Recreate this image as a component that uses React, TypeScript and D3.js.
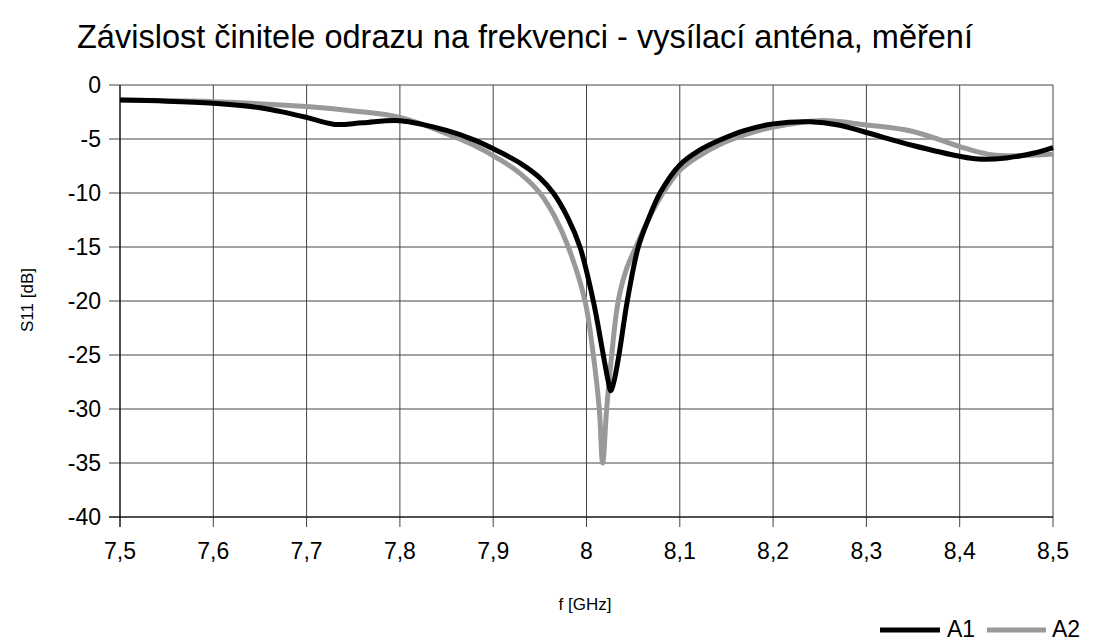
import * as d3 from "d3";

type Pt = [number, number];

const title = "Závislost činitele odrazu na frekvenci - vysílací anténa, měření";
const xTitle = "f [GHz]";
const yTitle = "S11 [dB]";
const xTicks = [7.5, 7.6, 7.7, 7.8, 7.9, 8.0, 8.1, 8.2, 8.3, 8.4, 8.5];
const yTicks = [0, -5, -10, -15, -20, -25, -30, -35, -40];

// A1 - black, measured [GHz, dB]
const a1: Pt[] = [
    [7.5, -1.4], [7.55, -1.5], [7.6, -1.7], [7.65, -2.1], [7.68, -2.6], [7.7, -3.0],
    [7.73, -3.65], [7.76, -3.5], [7.8, -3.3], [7.85, -4.2], [7.88, -5.1], [7.907, -6.2],
    [7.93, -7.3], [7.95, -8.6], [7.9644, -10], [7.98, -12.3], [7.993, -15],
    [8.0073, -20], [8.018, -25], [8.023, -27.3], [8.026, -28.3], [8.029, -27.6], [8.0348, -25],
    [8.0437, -20], [8.0555, -15], [8.066, -12.5], [8.0788, -10], [8.1, -7.4],
    [8.12, -6.1], [8.143, -5.1], [8.17, -4.2], [8.2, -3.6], [8.24, -3.4], [8.27, -3.7],
    [8.3, -4.4], [8.35, -5.6], [8.4, -6.6], [8.42, -6.85], [8.45, -6.75], [8.48, -6.3], [8.5, -5.8],
];

// A2 - grey
const a2: Pt[] = [
    [7.5, -1.4], [7.6, -1.55], [7.7, -2.0], [7.75, -2.4], [7.8, -3.0], [7.85, -4.5],
    [7.88, -5.6], [7.907, -6.9], [7.929, -8.2], [7.95, -10], [7.966, -12.2], [7.9805, -15],
    [7.9984, -20], [8.0073, -25], [8.0137, -30], [8.0173, -35], [8.0216, -30], [8.027, -25],
    [8.034, -20], [8.043, -17], [8.053, -15], [8.066, -12.5], [8.082, -10], [8.1, -7.9],
    [8.12, -6.6], [8.143, -5.5], [8.17, -4.6], [8.2, -3.9], [8.25, -3.3], [8.3, -3.7],
    [8.35, -4.3], [8.4, -5.7], [8.43, -6.4], [8.46, -6.55], [8.5, -6.4],
];

const W = 1095;
const H = 640;
const left = 120;
const right = 1053;
const top = 85;
const bottom = 517;
const font = "'Liberation Sans', Arial, sans-serif";

export default function App() {
    const x = d3.scaleLinear().domain([7.5, 8.5]).range([left, right]);
    const y = d3.scaleLinear().domain([-40, 0]).range([bottom, top]);
    const line = d3.line<Pt>()
        .x(d => x(d[0]))
        .y(d => y(d[1]))
        .curve(d3.curveCatmullRom.alpha(0.5));
    const fmt = (v: number) => (Number.isInteger(v) ? String(v) : v.toFixed(1).replace(".", ","));

    return <svg width={W} height={H} style={{position: "absolute", left: 0, top: 0}} fontFamily={font}>
        <rect width={W} height={H} fill="#fff"/>
        <text x={525} y={48} textAnchor="middle" fontSize={32.5}>{title}</text>
        {/* grid */}
        {xTicks.map(t => <line key={"gx" + t} x1={x(t)} x2={x(t)} y1={top} y2={bottom + 10} stroke="#444" strokeWidth={1}/>)}
        {yTicks.map(t => <line key={"gy" + t} x1={left - 11} x2={right} y1={y(t)} y2={y(t)} stroke="#444" strokeWidth={1}/>)}
        <line x1={left} x2={left} y1={top} y2={bottom + 10} stroke="#000"/>
        <line x1={left - 11} x2={right} y1={bottom} y2={bottom} stroke="#000"/>
        {yTicks.map(t => <text key={"ty" + t} x={101} y={y(t) + 8} textAnchor="end" fontSize={23}>{fmt(t)}</text>)}
        {xTicks.map(t => <text key={"tx" + t} x={x(t)} y={559} textAnchor="middle" fontSize={23}>{fmt(t)}</text>)}
        <text x={585} y={610} textAnchor="middle" fontSize={17}>{xTitle}</text>
        <text transform={`translate(33,300) rotate(-90)`} textAnchor="middle" fontSize={17}>{yTitle}</text>
        {/* curves */}
        <path d={line(a2) ?? ""} fill="none" stroke="#999" strokeWidth={5} strokeLinejoin="round"/>
        <path d={line(a1) ?? ""} fill="none" stroke="#000" strokeWidth={5} strokeLinejoin="round"/>
        {/* legend */}
        <line x1={880} x2={940} y1={630} y2={630} stroke="#000" strokeWidth={5}/>
        <text x={947} y={637} fontSize={23}>A1</text>
        <line x1={987} x2={1046} y1={630} y2={630} stroke="#999" strokeWidth={5}/>
        <text x={1052} y={637} fontSize={23}>A2</text>
    </svg>;
}
